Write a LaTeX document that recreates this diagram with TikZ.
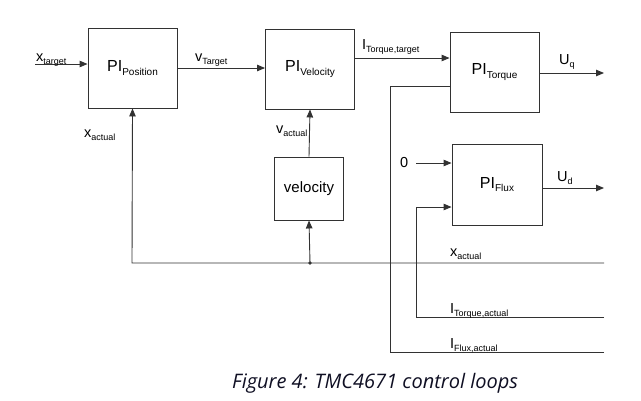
\documentclass[tikz,border=0pt]{standalone}
\usepackage{fontspec}
\setmainfont{Liberation Sans}
\newfontfamily\capfont{Open Sans}
\usetikzlibrary{arrows.meta,calc}
\definecolor{ln}{RGB}{50,50,50}
\definecolor{capc}{RGB}{15,15,35}
\newcommand\lbl[2]{#1\raisebox{-0.4ex}{\fontsize{9}{9}\selectfont #2}}
\newcommand\pilbl[1]{\fontsize{16}{16}\selectfont PI\raisebox{-0.45ex}{\fontsize{10}{10}\selectfont #1}}
\begin{document}
\begin{tikzpicture}[x=1pt,y=-1pt,
  blk/.style={draw=ln,line width=0.9pt,minimum width=89pt,minimum height=80pt,inner sep=0pt},
  wire/.style={draw=ln,line width=0.9pt},
  arr/.style={wire,-{Triangle[length=8pt,width=6.5pt]}},
  tx/.style={font=\fontsize{14.5}{14.5}\selectfont,anchor=base west,inner sep=0pt}]
\useasboundingbox (0,0) rectangle (641,400);
% blocks
\node[blk] (pos) at (132.5,68) {\pilbl{Position}};
\node[blk] (vel) at (310,69) {\pilbl{Velocity}};
\node[blk] (trq) at (494.5,72) {\pilbl{Torque}};
\node[blk,minimum width=90pt,minimum height=81pt] (flx) at (497,184.5) {\pilbl{Flux}};
\node[blk,minimum width=69pt,minimum height=63pt,font=\fontsize{15}{15}\selectfont] (spd) at (309,188.5) {velocity};
% coordinates
\coordinate (xin) at (35,64);
\coordinate (uq) at (604,73);
\coordinate (ud) at (604,188);
\coordinate (zero) at (416,163);
\coordinate (ta) at (604,317);
\coordinate (tac) at (416,317);
\coordinate (fa) at (604,352);
\coordinate (fac) at (390,352);
\coordinate (xa) at (604,263);
\coordinate (xac) at (132,263);
\coordinate (dot) at (310,263);
% connectors
\draw[arr] (xin) -- (xin -| pos.west);
\draw[arr] (pos.east |- 0,68) -- (vel.west |- 0,68);
\draw[arr] (vel.east |- 0,58) -- (trq.west |- 0,58);
\draw[arr] (trq.east |- uq) -- (uq);
\draw[arr] (flx.east |- ud) -- (ud);
\draw[arr] (zero) -- (zero -| flx.west);
\draw[arr] (ta) -- (tac) -- (416,207) -- (flx.west |- 0,207);
\draw[wire] (fa) -- (fac) -- (390,86) -- (trq.west |- 0,86);
\draw[arr] (xa) -- (xac) -- (pos.south);
\draw[arr] (dot) -- (spd.south);
\draw[arr] (spd.north) -- (vel.south);
\fill[ln] (dot) circle (1.8pt);
% labels
\node[tx] (l1) at (36,61) {\lbl{x}{target}};
\node[tx] (l2) at (195,61) {\lbl{v}{Target}};
\node[tx] (l3) at (362,49) {\lbl{I}{Torque,target}};
\node[tx] (l4) at (559,64) {\lbl{U}{q}};
\node[tx] (l5) at (84,137) {\lbl{x}{actual}};
\node[tx] (l6) at (276,133) {\lbl{v}{actual}};
\node[tx] (l7) at (400,167) {0};
\node[tx] (l8) at (557,181) {\lbl{U}{d}};
\node[tx] (l9) at (450,256) {\lbl{x}{actual}};
\node[tx] (l10) at (450,313) {\lbl{I}{Torque,actual}};
\node[tx] (l11) at (450,348) {\lbl{I}{Flux,actual}};
\node[anchor=base west,inner sep=0pt,text=capc,font=\capfont\itshape\fontsize{20}{20}\selectfont] (cap) at (232,388) {Figure 4: TMC4671 control loops};
\end{tikzpicture}
\end{document}
